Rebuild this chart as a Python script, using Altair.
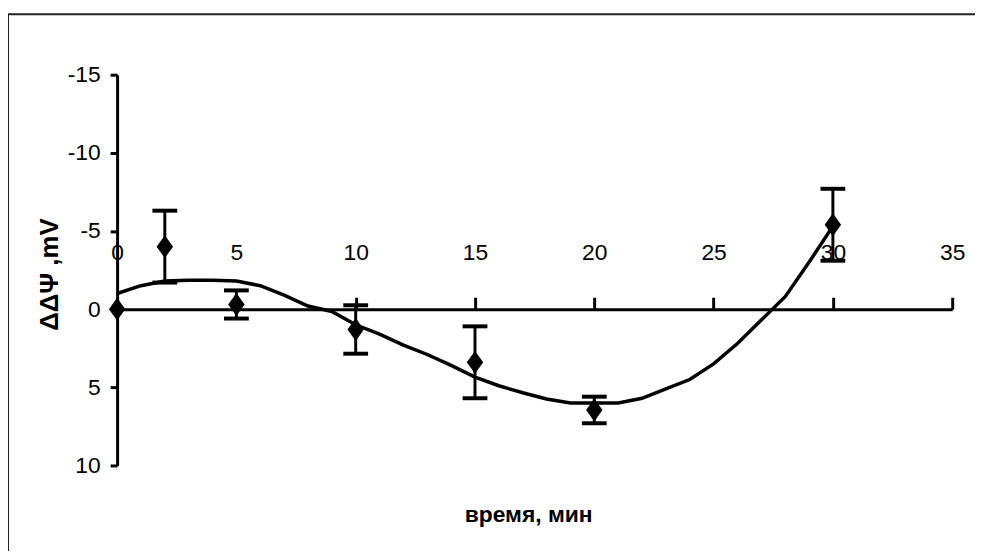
import altair as alt
import pandas as pd

# measured points (time, min) and ΔΔΨ (mV) with error bars
pt_x = [0, 2, 5, 10, 15, 20, 30]
pt_y = [0.0, -4.0, -0.3, 1.3, 3.4, 6.45, -5.4]
pt_err = [0.0, 2.3, 0.9, 1.55, 2.3, 0.85, 2.3]

# trend line
tr_x = [0, 1, 2, 3, 4, 5, 6, 7, 8, 9, 10, 11, 12, 13, 14, 15, 16, 17, 18, 19,
        20, 21, 22, 23, 24, 25, 26, 27, 28, 29, 30]
tr_y = [-1.0, -1.5, -1.8, -1.85, -1.85, -1.8, -1.5, -0.9, -0.2, 0.15, 1.0,
        1.6, 2.3, 2.9, 3.6, 4.35, 4.9, 5.35, 5.75, 6.0, 6.0, 6.0, 5.7, 5.1,
        4.5, 3.5, 2.2, 0.7, -0.8, -3.0, -5.3]

x_ticks = [0, 5, 10, 15, 20, 25, 30, 35]
y_ticks = [-15, -10, -5, 0, 5, 10]
x_title = "время, мин"
y_title = "ΔΔΨ ,mV"

FONT = "Liberation Sans, Arial, sans-serif"

pts = pd.DataFrame({"t": pt_x, "v": pt_y, "err": pt_err})
pts["lo"] = pts["v"] - pts["err"]
pts["hi"] = pts["v"] + pts["err"]
bars = pts[pts["err"] > 0]
trend = pd.DataFrame({"t": tr_x, "v": tr_y})

W, H = 842, 394

xs = alt.Scale(domain=[0, 35], nice=False, zero=False)
ys = alt.Scale(domain=[-15, 10], reverse=True, nice=False, zero=False)

x_axis = alt.Axis(orient="top", offset=-(15 / 25 * H), values=x_ticks, grid=False,
                  tickSize=12, tickWidth=3, domainWidth=3, labelPadding=33,
                  labelFont=FONT, labelFontSize=23, labelColor="black",
                  domainColor="black", tickColor="black", labelFlush=False,
                  labelOverlap=False, labelExpr="'' + datum.value", title=None)
y_axis = alt.Axis(values=y_ticks, grid=False, tickSize=7, tickWidth=3,
                  domainWidth=3, labelPadding=10, labelFont=FONT,
                  labelFontSize=23, labelColor="black", domainColor="black",
                  tickColor="black", labelExpr="'' + datum.value",
                  title=y_title, titleFont=FONT,
                  titleFontSize=26, titleFontWeight="bold", titleColor="black",
                  titleAngle=270, titleAlign="center", titleBaseline="middle",
                  titleX=-68, titleY=H / 2 + 4)

border = alt.Chart(pd.DataFrame({"a": [0]})).mark_rect(
    fill=None, stroke="#222", strokeWidth=2
).encode(x=alt.value(-110), y=alt.value(-61), x2=alt.value(960), y2=alt.value(600))

xlab = alt.Chart(pd.DataFrame({"a": [0]})).mark_text(
    text=x_title, font=FONT, fontSize=23, fontWeight="bold", color="black",
    baseline="middle", align="center"
).encode(x=alt.value(415), y=alt.value(444))

line = alt.Chart(trend).mark_line(color="black", strokeWidth=3.5).encode(
    x=alt.X("t:Q", scale=xs, axis=x_axis),
    y=alt.Y("v:Q", scale=ys, axis=y_axis),
)

rules = alt.Chart(bars).mark_rule(color="black", strokeWidth=3, opacity=1).encode(
    x="t:Q", y="lo:Q", y2="hi:Q")
cap_lo = alt.Chart(bars).mark_tick(color="black", orient="horizontal", size=25,
                                   thickness=4, opacity=1).encode(x="t:Q", y="lo:Q")
cap_hi = alt.Chart(bars).mark_tick(color="black", orient="horizontal", size=25,
                                   thickness=4, opacity=1).encode(x="t:Q", y="hi:Q")
diamond = alt.Chart(pts).mark_point(
    shape="M0,-1L0.72,0L0,1L-0.72,0Z", filled=True, color="black", opacity=1,
    size=530).encode(x="t:Q", y="v:Q")

chart = alt.layer(border, xlab, line, rules, cap_lo, cap_hi, diamond).properties(
    width=W, height=H,
    autosize=alt.AutoSizeParams(type="none"),
    padding={"left": 110, "top": 65, "right": 23, "bottom": 84},
    background="white",
).configure_view(stroke=None)

chart.save("out.html", embed_options={"renderer": "svg", "actions": False})
